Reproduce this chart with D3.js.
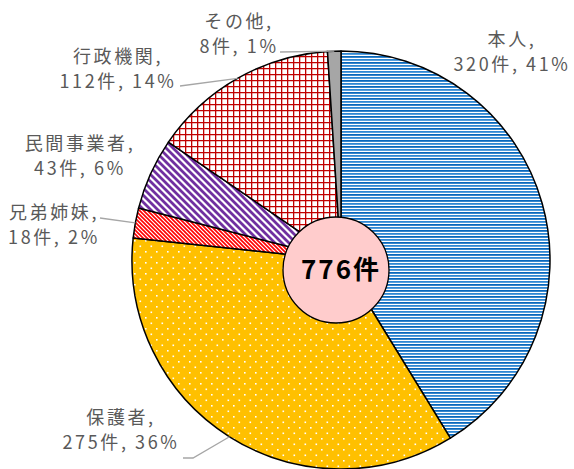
<!DOCTYPE html>
<html>
<head>
<meta charset="utf-8">
<script src="https://cdn.jsdelivr.net/npm/d3@7"></script>
<style>
  body { margin: 0; background: #fff; }
  svg { display: block; }
  .lbl { font-family: "Noto Sans CJK JP", sans-serif; font-size: 18px; fill: #595959; letter-spacing: 2.6px; }
</style>
</head>
<body>
<svg id="pieChart"></svg>
<script>
// data
const categories = ["本人", "保護者", "兄弟姉妹", "民間事業者", "行政機関", "その他"];
const counts = [320, 275, 18, 43, 112, 8];
const percents = [41, 36, 2, 6, 14, 1];
const totalLabel = "776件";

const width = 574, height = 469;
const cx = 341, cy = 260, radius = 209;

const svg = d3.select("#pieChart")
    .attr("width", width)
    .attr("height", height);

// fill patterns
const defs = svg.append("defs");

let p = defs.append("pattern").attr("id", "pat0").attr("patternUnits", "userSpaceOnUse")
    .attr("width", 6).attr("height", 6);
p.append("rect").attr("width", 6).attr("height", 6).attr("fill", "#fff");
p.append("rect").attr("y", 0).attr("width", 6).attr("height", 1.8).attr("fill", "#0868bd");
p.append("rect").attr("y", 3).attr("width", 6).attr("height", 1.8).attr("fill", "#2f88d4");

p = defs.append("pattern").attr("id", "pat1").attr("patternUnits", "userSpaceOnUse")
    .attr("width", 11).attr("height", 11);
p.append("rect").attr("width", 11).attr("height", 11).attr("fill", "#ffc000");
p.append("rect").attr("x", 2).attr("y", 2).attr("width", 1.6).attr("height", 1.6).attr("fill", "#fff");
p.append("rect").attr("x", 7.5).attr("y", 7.5).attr("width", 1.6).attr("height", 1.6).attr("fill", "#fff");

p = defs.append("pattern").attr("id", "pat2").attr("patternUnits", "userSpaceOnUse")
    .attr("width", 4).attr("height", 4);
p.append("rect").attr("width", 4).attr("height", 4).attr("fill", "#fff");
p.append("path").attr("d", "M-1,-1L5,5M-1,3L1,5M3,-1L5,1").attr("stroke", "#ff0000").attr("stroke-width", 1.6);

p = defs.append("pattern").attr("id", "pat3").attr("patternUnits", "userSpaceOnUse")
    .attr("width", 7).attr("height", 7);
p.append("rect").attr("width", 7).attr("height", 7).attr("fill", "#fff");
p.append("path").attr("d", "M-1,-1L8,8M-1,6L1,8M6,-1L8,1").attr("stroke", "#7030a0").attr("stroke-width", 2.8);

p = defs.append("pattern").attr("id", "pat4").attr("patternUnits", "userSpaceOnUse")
    .attr("width", 6).attr("height", 6);
p.append("rect").attr("width", 6).attr("height", 6).attr("fill", "#fff");
p.append("path").attr("d", "M0.6,0V6M0,0.6H6").attr("stroke", "#c00000").attr("stroke-width", 1.4);

p = defs.append("pattern").attr("id", "pat5").attr("patternUnits", "userSpaceOnUse")
    .attr("width", 6).attr("height", 6);
p.append("rect").attr("width", 6).attr("height", 6).attr("fill", "#a6a6a6");

const rows = categories.map((c, i) => ({ name: c, value: counts[i], pct: percents[i], idx: i }));

const pie = d3.pie().sort(null).value(d => d.value);
const arcs = pie(rows);
const arc = d3.arc().innerRadius(0).outerRadius(radius);
const edgeArc = d3.arc().innerRadius(radius).outerRadius(radius);

const g = svg.append("g").attr("transform", `translate(${cx},${cy})`);

g.selectAll(".slice")
    .data(arcs)
    .enter().append("path")
    .attr("class", "slice")
    .attr("d", arc)
    .attr("fill", d => `url(#pat${d.data.idx})`)
    .attr("stroke", "#000")
    .attr("stroke-width", 1.5)
    .attr("stroke-linejoin", "round");

// label placement (absolute page coords) and leader start points
const labelPos = [
    { x: 512, y: 46, lead: null },
    { x: 121, y: 424, lead: [[183, 458], [193, 458]] },
    { x: 54, y: 219, lead: [[100, 218]] },
    { x: 80, y: 150, lead: null },
    { x: 118, y: 63, lead: [[180, 86]] },
    { x: 239, y: 28, lead: [[280, 52]] }
];

arcs.forEach((d, i) => {
    const lp = labelPos[i];
    if (lp.lead) {
        const end = edgeArc.centroid(d);
        const pts = lp.lead.concat([[end[0] + cx, end[1] + cy]]);
        svg.append("path")
            .attr("d", d3.line()(pts))
            .attr("fill", "none")
            .attr("stroke", "#a6a6a6")
            .attr("stroke-width", 1.3);
    }
    const t = svg.append("text")
        .attr("class", "lbl")
        .attr("text-anchor", "middle");
    t.append("tspan").attr("x", lp.x).attr("y", lp.y).text(d.data.name + ",");
    t.append("tspan").attr("x", lp.x).attr("y", lp.y + 25)
        .text(`${d.data.value}件, ${d.data.pct}%`);
});

// centre total
svg.append("circle")
    .attr("cx", 336).attr("cy", 270).attr("r", 53)
    .attr("fill", "#ffcccc")
    .attr("stroke", "#000")
    .attr("stroke-width", 1.3);

svg.append("text")
    .attr("x", 341).attr("y", 279)
    .attr("text-anchor", "middle")
    .style("font-family", "'Noto Sans CJK JP', sans-serif")
    .style("font-size", "26px")
    .style("font-weight", "bold")
    .style("letter-spacing", "2px")
    .attr("fill", "#000")
    .text(totalLabel);
</script>
</body>
</html>
